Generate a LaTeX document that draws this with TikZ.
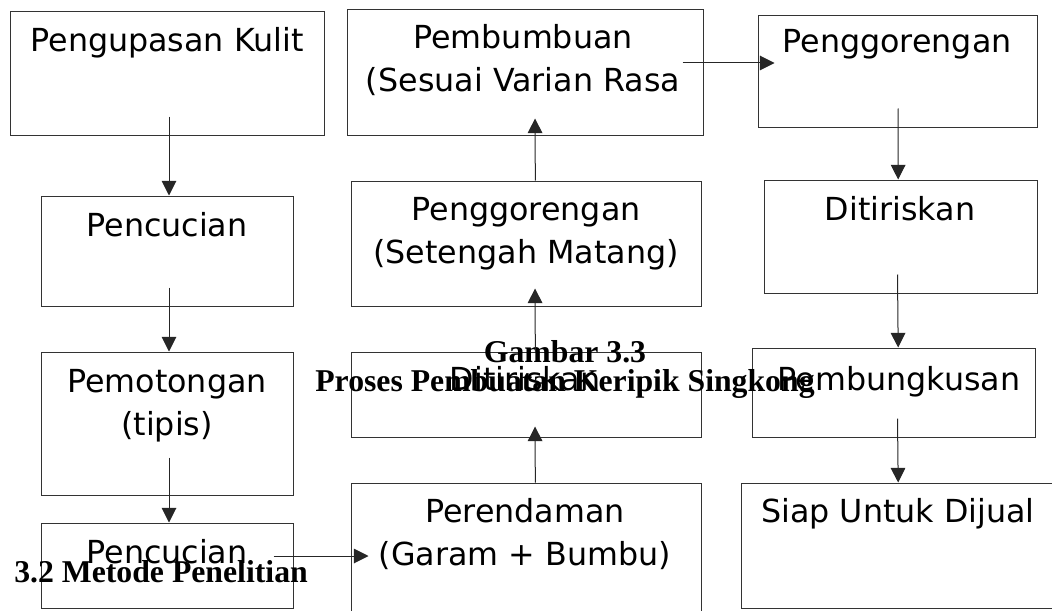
\documentclass[tikz,border=0pt]{standalone}
\usepackage{fontspec}
\setmainfont{Liberation Serif}
\newfontfamily\boxfont{DejaVu Sans}
\usetikzlibrary{arrows.meta,fit}

\begin{document}
\begin{tikzpicture}[x=0.75pt,y=-0.75pt,
    box/.style={draw=black!80,line width=0.75pt,inner sep=0pt},
    txt/.style={font=\boxfont\fontsize{23.8}{32.25}\selectfont,align=center,inner sep=0pt},
    judulstyle/.style={font=\bfseries\fontsize{23.8}{27}\selectfont,align=center,inner sep=0pt},
    flow/.style={draw=black!85,line width=0.75pt,-{Triangle[length=11pt,width=11pt]}}]
    \useasboundingbox (0,0) rectangle (1052,610);
    % kolom kiri
    \node [box,fit={(10,12) (324,135)}] (kulit) {};
    \node [box,fit={(41,196) (293,306)}] (cuci) {};
    \node [box,fit={(41,352) (293,495)}] (potong) {};
    \node [box,fit={(41,523) (293,608)}] (cuci2) {};
    % kolom tengah
    \node [box,fit={(347,10) (703,135)}] (bumbu) {};
    \node [box,fit={(351,181) (701,306)}] (goreng) {};
    \node [box,fit={(351,352) (701,437)}] (tiris) {};
    \node [box,fit={(351,483) (701,625)}] (rendam) {};
    % kolom kanan
    \node [box,fit={(758,16) (1037,127)}] (goreng2) {};
    \node [box,fit={(764,180) (1037,293)}] (tiris2) {};
    \node [box,fit={(752,348) (1035,437)}] (bungkus) {};
    \node [box,fit={(741,483) (1058,608)}] (siap) {};
    % teks
    \node [txt,anchor=base] (kulitT) at (167,52) {Pengupasan Kulit};
    \node [txt,anchor=base] (cuciT) at (167,236) {Pencucian};
    \node [txt,anchor=north] (potongT) at (167,369) {Pemotongan\\(tipis)};
    \node [txt,anchor=base] (cuci2T) at (167,563) {Pencucian};
    \node [txt,anchor=north] (bumbuT) at (523,24) {Pembumbuan\\(Sesuai Varian Rasa};
    \node [txt,anchor=north] (gorengT) at (526,197) {Penggorengan\\(Setengah Matang)};
    \node [txt,anchor=base] (tirisT) at (525,390) {Ditiriskan};
    \node [txt,anchor=north] (rendamT) at (525,498) {Perendaman\\(Garam + Bumbu)};
    \node [txt,anchor=base] (goreng2T) at (897,53) {Penggorengan};
    \node [txt,anchor=base] (tiris2T) at (900,220) {Ditiriskan};
    \node [txt,anchor=base] (bungkusT) at (899,390) {Pembungkusan};
    \node [txt,anchor=base] (siapT) at (898,522) {Siap Untuk Dijual};
    % judul
    \node [judulstyle,anchor=north] (judul) at (565,340) {Gambar 3.3\\[-5pt]Proses Pembuatan Keripik Singkong};
    \node [judulstyle,anchor=base west] (metode) at (14,582) {3.2 Metode Penelitian};
    % panah
    \draw [flow] ([shift={(2,-19)}]kulit.south) -- ([xshift=1.5pt]cuci.north);
    \draw [flow] ([shift={(2,-19)}]cuci.south) -- ([xshift=1.5pt]potong.north);
    \draw [flow] ([shift={(2,-38)}]potong.south) -- ([xshift=1.5pt]cuci2.north);
    \draw [flow] ([shift={(-20,-9.5)}]cuci2.east) -- ([shift={(18,-9.5)}]cuci2.east -| rendam.west);
    \draw [flow] ([xshift=7pt]rendam.north) -- ([shift={(9,-11)}]tiris.south);
    \draw [flow] ([xshift=7pt]tiris.north) -- ([shift={(9,-18)}]goreng.south);
    \draw [flow] ([xshift=7pt]goreng.north) -- ([shift={(10,-17)}]bumbu.south);
    \draw [flow] ([shift={(-21,-9.5)}]bumbu.east) -- ([shift={(17,-9.5)}]bumbu.east -| goreng2.west);
    \draw [flow] ([shift={(0.5,-19)}]goreng2.south) -- ([xshift=0.5]goreng2.south |- tiris2.north);
    \draw [flow] ([yshift=14.25pt]goreng2.south |- tiris2.south) -- ([xshift=0.5]goreng2.south |- bungkus.north);
    \draw [flow] ([yshift=14.25pt]goreng2.south |- bungkus.south) -- ([xshift=0.5]goreng2.south |- siap.north);
\end{tikzpicture}
\end{document}
